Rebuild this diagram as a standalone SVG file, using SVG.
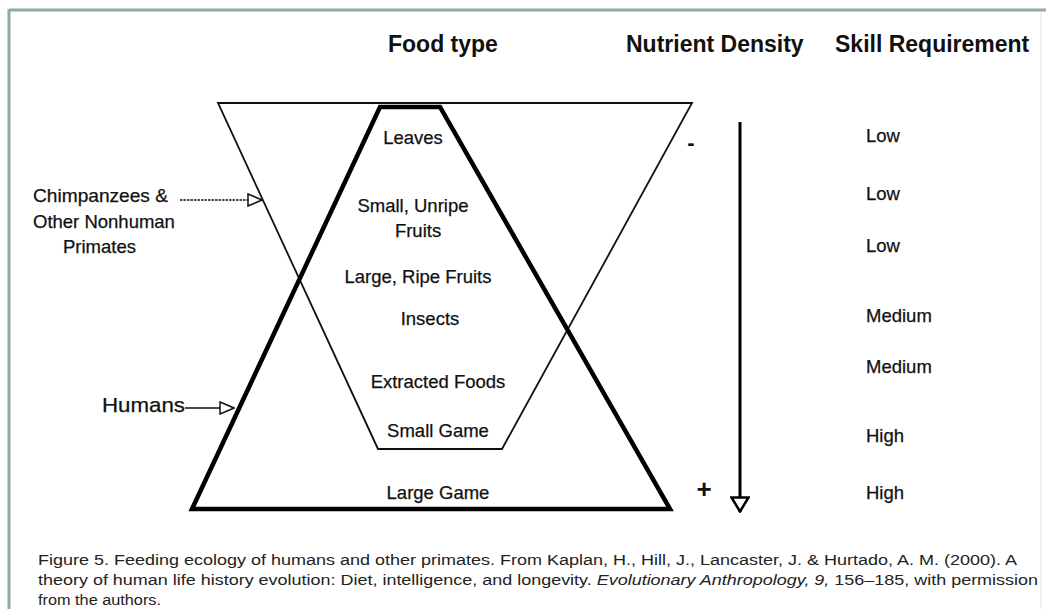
<svg xmlns="http://www.w3.org/2000/svg" width="1046" height="609" viewBox="0 0 1046 609">
<style>
.t{font-family:"Liberation Sans",Arial,sans-serif;font-size:18.5px;fill:#111;stroke:#111;stroke-width:0.25}
.h{font-family:"Liberation Sans",Arial,sans-serif;font-size:23px;font-weight:bold;fill:#111}
.c{font-family:"Liberation Sans",Arial,sans-serif;font-size:15.5px;fill:#222}
.m{text-anchor:middle}
.thin{fill:none;stroke:#111;stroke-width:1.8;stroke-linejoin:miter}
.thick{fill:none;stroke:#000;stroke-width:4.5;stroke-linejoin:miter}
.conn{fill:none;stroke:#111;stroke-width:1.5}
</style>
<defs>
<marker id="open" viewBox="0 0 16 14" refX="15" refY="7" markerWidth="16" markerHeight="14" markerUnits="userSpaceOnUse" orient="auto">
<polygon points="1,1 15,7 1,13" fill="#fff" stroke="#111" stroke-width="1.5"/>
</marker>
<marker id="down" viewBox="0 0 17 20" refX="16" refY="10" markerWidth="17" markerHeight="20" markerUnits="userSpaceOnUse" orient="auto">
<polygon points="1.5,1.5 15.5,10 1.5,18.5" fill="#fff" stroke="#000" stroke-width="2.5"/>
</marker>
</defs>
<rect x="0" y="0" width="1046" height="609" fill="#fff"/>
<g id="frame">
<line x1="1041" y1="12" x2="1041" y2="609" stroke="#ececec" stroke-width="1.5"/>
<line x1="9" y1="10" x2="1046" y2="10" stroke="#8fa8a8" stroke-width="3"/>
<line x1="9" y1="9" x2="9" y2="609" stroke="#8fa8a8" stroke-width="3"/>
</g>
<g id="headers">
<text class="h" x="388" y="52">Food type</text>
<text class="h" x="626" y="52">Nutrient Density</text>
<text class="h" x="835" y="52">Skill Requirement</text>
</g>
<g id="chimp-trapezoid">
<polygon class="thin" points="218,103 692,103 502,449 378,449"/>
</g>
<g id="human-triangle">
<polygon class="thick" points="380,107 440,107 670,509 192,509"/>
</g>
<g id="food-types">
<text class="t m" x="413" y="144">Leaves</text>
<text class="t m" x="413" y="212">Small, Unripe</text>
<text class="t m" x="418" y="237">Fruits</text>
<text class="t m" x="418" y="283">Large, Ripe Fruits</text>
<text class="t m" x="430" y="325">Insects</text>
<text class="t m" x="438" y="388">Extracted Foods</text>
<text class="t m" x="438" y="437">Small Game</text>
<text class="t m" x="438" y="499">Large Game</text>
</g>
<g id="chimp-label">
<text class="t" x="33" y="202" textLength="135" lengthAdjust="spacingAndGlyphs">Chimpanzees &amp;</text>
<text class="t" x="33" y="228">Other Nonhuman</text>
<text class="t" x="63" y="253">Primates</text>
</g>
<g id="human-label">
<text class="t" x="102" y="412" style="font-size:21px" textLength="83" lengthAdjust="spacingAndGlyphs">Humans</text>
</g>
<g id="nutrient-density">
<text class="h m" x="691" y="150" style="font-size:22px">-</text>
<text class="h m" x="704" y="498" style="font-size:26px">+</text>
</g>
<g id="skill">
<text class="t" x="866" y="142">Low</text>
<text class="t" x="866" y="200">Low</text>
<text class="t" x="866" y="252">Low</text>
<text class="t" x="866" y="322">Medium</text>
<text class="t" x="866" y="373">Medium</text>
<text class="t" x="866" y="442">High</text>
<text class="t" x="866" y="499">High</text>
</g>
<g id="connectors">
<line class="conn" x1="180" y1="200" x2="262" y2="200" stroke-dasharray="2.5 1" marker-end="url(#open)"/>
<line class="conn" x1="185" y1="408" x2="234" y2="408" marker-end="url(#open)"/>
<line x1="740" y1="122" x2="740" y2="512" stroke="#000" stroke-width="3" marker-end="url(#down)"/>
</g>
<g id="caption">
<text class="c" x="38" y="565" textLength="979" lengthAdjust="spacingAndGlyphs">Figure 5. Feeding ecology of humans and other primates. From Kaplan, H., Hill,  J., Lancaster, J. &amp; Hurtado, A. M. (2000). A</text>
<text class="c" x="38" y="585" textLength="1000" lengthAdjust="spacingAndGlyphs">theory of human  life history evolution: Diet, intelligence, and longevity. <tspan font-style="italic">Evolutionary Anthropology, 9,</tspan> 156–185, with permission</text>
<text class="c" x="38" y="605" textLength="123" lengthAdjust="spacingAndGlyphs">from the authors.</text>
</g>
</svg>
